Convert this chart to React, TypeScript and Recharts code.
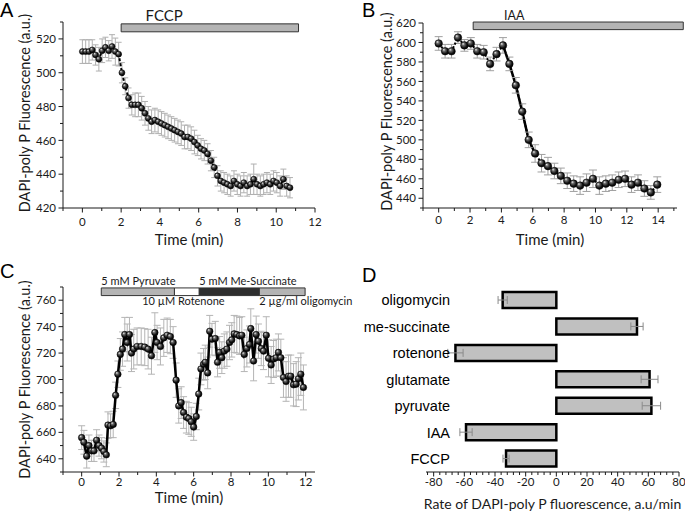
import React from 'react'
import {
  LineChart,
  Line,
  BarChart,
  Bar,
  XAxis,
  YAxis,
  ErrorBar,
  ReferenceArea
} from 'recharts'

// Panel A: FCCP
const aTime = [0, 0.17, 0.34, 0.51, 0.68, 0.85, 1.02, 1.19, 1.36, 1.53, 1.7, 1.87, 2.04, 2.21, 2.38, 2.55, 2.72, 2.89, 3.06, 3.23, 3.4, 3.57, 3.74, 3.91, 4.08, 4.25, 4.42, 4.59, 4.76, 4.93, 5.1, 5.27, 5.44, 5.61, 5.78, 5.95, 6.12, 6.29, 6.46, 6.63, 6.8, 6.97, 7.14, 7.31, 7.48, 7.65, 7.82, 7.99, 8.16, 8.33, 8.5, 8.67, 8.84, 9.01, 9.18, 9.35, 9.52, 9.69, 9.86, 10.03, 10.2, 10.37, 10.54, 10.71]
const aVal = [512.5, 512.5, 512.5, 513.5, 510.5, 508, 513, 515, 513, 515.5, 512.5, 511, 500, 492, 485, 481, 481, 481, 479, 476, 473, 471, 472, 471, 470, 469, 468, 467, 466, 465, 464, 462, 462, 461, 459, 457, 455, 454, 452, 448, 444, 439, 436, 435, 434, 433, 436, 434, 433, 435, 433, 434, 437, 434, 433, 434, 435, 434, 436, 435, 433, 437, 433, 432]
const aErr = [7, 7, 7, 6, 6, 7, 7, 6, 6, 7, 8, 7, 6, 5, 6, 6, 7, 7, 7, 7, 7, 7, 7, 7, 7, 7, 7, 7, 7, 7, 7, 7, 7, 7, 7, 6, 6, 6, 6, 6, 6, 6, 6, 6, 6, 6, 6, 6, 6, 6, 6, 6, 9, 6, 6, 6, 6, 6, 6, 6, 6, 6, 6, 6]

// Panel B: IAA
const bTime = [0, 0.41, 0.82, 1.23, 1.64, 2.05, 2.46, 2.87, 3.28, 3.69, 4.1, 4.51, 4.92, 5.33, 5.74, 6.15, 6.56, 6.97, 7.38, 7.79, 8.2, 8.61, 9.02, 9.43, 9.84, 10.25, 10.66, 11.07, 11.48, 11.89, 12.3, 12.71, 13.12, 13.53, 13.94]
const bVal = [599, 591, 591, 605, 597, 599, 591, 590, 578, 588, 597, 578, 556, 529, 500, 486, 476, 473, 468, 463, 458, 455, 453, 456, 460, 453, 455, 456, 459, 460, 454, 456, 450, 446, 454]
const bErr = [7, 7, 7, 6, 6, 6, 7, 7, 7, 7, 8, 7, 8, 8, 8, 9, 9, 9, 8, 8, 8, 8, 9, 9, 9, 9, 8, 8, 8, 8, 8, 8, 8, 7, 8]

// Panel C: substrates / inhibitors
const cTime = [0, 0.12, 0.27, 0.39, 0.53, 0.66, 0.8, 0.93, 1.07, 1.19, 1.32, 1.41, 1.55, 1.69, 1.82, 1.94, 2.07, 2.19, 2.31, 2.44, 2.56, 2.67, 2.79, 2.97, 3.19, 3.38, 3.56, 3.74, 3.92, 4.04, 4.22, 4.4, 4.58, 4.75, 4.9, 5.06, 5.2, 5.33, 5.46, 5.61, 5.74, 5.87, 6.0, 6.14, 6.27, 6.39, 6.53, 6.62, 6.75, 6.86, 6.98, 7.16, 7.28, 7.39, 7.51, 7.64, 7.78, 7.92, 8.04, 8.17, 8.31, 8.46, 8.58, 8.71, 8.85, 8.99, 9.06, 9.21, 9.35, 9.47, 9.62, 9.74, 9.89, 10.01, 10.15, 10.28, 10.42, 10.54, 10.67, 10.81, 10.95, 11.08, 11.2, 11.35, 11.49, 11.61, 11.74, 11.88]
const cVal = [656, 652.5, 642, 650, 646, 646, 654, 650, 648, 645.5, 643, 665.5, 665, 666, 688, 704, 719, 723, 734, 728, 734, 720, 723, 725, 725, 724.5, 723, 718, 735.5, 728, 725, 731.5, 733.5, 732.5, 728, 699.5, 680, 682.5, 675, 671.5, 670.5, 668, 664, 672, 689, 708, 711.5, 713, 705, 736.5, 730.5, 731, 713, 720.5, 716.5, 721.5, 723, 728, 730, 734.5, 734, 733, 733.5, 719, 723.5, 726.5, 738.5, 714, 734, 729, 723.5, 721.5, 733.5, 716, 711, 715.5, 716.5, 720.5, 716.5, 701.5, 698.5, 702.5, 702.5, 696, 696.5, 700.5, 704, 694]
const cErr = [9, 9, 9, 8, 8, 8, 8, 8, 8, 8, 9, 10, 9, 10, 10, 10, 12, 13, 13, 14, 13, 14, 15, 14, 14, 14, 15, 14, 15, 13, 14, 14, 13, 13, 12, 13, 13, 12, 12, 12, 12, 11, 10, 10, 12, 12, 12, 13, 12, 12, 12, 13, 11, 12, 12, 13, 13, 13, 13, 14, 14, 14, 14, 13, 14, 14, 15, 15, 14, 13, 13, 14, 14, 14, 14, 14, 14, 14, 14, 15, 15, 16, 16, 16, 17, 16, 16, 17]

// Panel D: rates
const dNames = ['oligomycin', 'me-succinate', 'rotenone', 'glutamate', 'pyruvate', 'IAA', 'FCCP']
const dRates = [-35, 52.6, -65.8, 60.8, 62, -58.9, -32.8]
const dErr = [3, 4, 5, 5.5, 6, 4, 2]

// axis ticks (all marks) and the labelled ones
const aXTicks = [-1, 0, 1, 2, 3, 4, 5, 6, 7, 8, 9, 10, 11, 12]
const aXLabels = [0, 2, 4, 6, 8, 10, 12]
const aYTicks = [420, 430, 440, 450, 460, 470, 480, 490, 500, 510, 520, 530]
const aYLabels = [420, 440, 460, 480, 500, 520]
const bXTicks = [-1, 0, 1, 2, 3, 4, 5, 6, 7, 8, 9, 10, 11, 12, 13, 14, 15]
const bXLabels = [0, 2, 4, 6, 8, 10, 12, 14]
const bYTicks = [430, 440, 450, 460, 470, 480, 490, 500, 510, 520, 530, 540, 550, 560, 570, 580, 590, 600, 610, 620]
const bYLabels = [440, 460, 480, 500, 520, 540, 560, 580, 600, 620]
const cXTicks = [-1, 0, 1, 2, 3, 4, 5, 6, 7, 8, 9, 10, 11, 12]
const cXLabels = [0, 2, 4, 6, 8, 10, 12]
const cYTicks = [630, 640, 650, 660, 670, 680, 690, 700, 710, 720, 730, 740, 750, 760, 770]
const cYLabels = [640, 660, 680, 700, 720, 740, 760]
const dXTicks = [-84, -80, -76, -72, -68, -64, -60, -56, -52, -48, -44, -40, -36, -32, -28, -24, -20, -16, -12, -8, -4, 0, 4, 8, 12, 16, 20, 24, 28, 32, 36, 40, 44, 48, 52, 56, 60, 64, 68, 72, 76, 80]
const dXLabels = [-80, -60, -40, -20, 0, 20, 40, 60, 80]

const aRows = aTime.map((t, i) => ({ t, v: aVal[i], e: aErr[i] }))
const bRows = bTime.map((t, i) => ({ t, v: bVal[i], e: bErr[i], drop: i >= 10 && i <= 15 ? bVal[i] : null }))
const cRows = cTime.map((t, i) => ({ t, v: cVal[i], e: cErr[i] }))
const dRows = dNames.map((name, i) => ({ name, v: dRates[i], e: dErr[i] }))

const INK = '#1a1a1a'

const xTick = (labels: number[], offset: number) => (p: any) => {
  const v = p.payload.value
  const major = labels.includes(v)
  return (
    <g>
      <line x1={p.x} x2={p.x} y1={p.y} y2={p.y + (major ? 4.5 : 3)} stroke={INK} />
      {major && (
        <text x={p.x} y={p.y + offset} textAnchor="middle" fontSize={11.5} fill={INK}>
          {v}
        </text>
      )}
    </g>
  )
}

const yTick = (labels: number[]) => (p: any) => {
  const v = p.payload.value
  const major = labels.includes(v)
  return (
    <g>
      <line x1={p.x - (major ? 4.5 : 3)} x2={p.x} y1={p.y} y2={p.y} stroke={INK} />
      {major && (
        <text x={p.x - 7} y={p.y} dy="0.36em" textAnchor="end" fontSize={11.5} fill={INK}>
          {v}
        </text>
      )}
    </g>
  )
}

const xTitle = (text: string, dy: number, size = 15) => (p: any) => {
  const vb = p.viewBox
  return (
    <text x={vb.x + vb.width / 2} y={vb.y + dy} textAnchor="middle" fontSize={size} fill={INK}>
      {text}
    </text>
  )
}

const yTitle = (text: string, x: number, shift: number) => (p: any) => {
  const vb = p.viewBox
  const cy = vb.y + vb.height / 2 + shift
  return (
    <text transform={`translate(${x},${cy}) rotate(-90)`} textAnchor="middle" dy="0.35em" fontSize={14.5} fill={INK}>
      {text}
    </text>
  )
}

const areaText = (text: string, dx: number, dy: number, anchor: string, size = 11) => (p: any) => {
  const vb = p.viewBox
  return (
    <text x={vb.x + dx} y={vb.y + dy} textAnchor={anchor} fontSize={size} fill={INK}>
      {text}
    </text>
  )
}

const ball = (r: number) => (p: any) => {
  if (p.cx == null || p.cy == null) return <g key={p.index} />
  return <circle key={p.index} cx={p.cx} cy={p.cy} r={r} fill="url(#ball)" stroke="#000" strokeWidth={0.5} />
}

const catTick = (p: any) => (
  <text x={p.x + 24} y={p.y} dy="0.36em" textAnchor="end" fontSize={14.5} fontFamily="'Liberation Sans', Arial, sans-serif" fill="#000">
    {p.payload.value}
  </text>
)

const letter = (ch: string, left: number, top: number) => (
  <div style={{ position: 'absolute', left, top, fontSize: 20, lineHeight: '20px', fontFamily: "'Liberation Sans', Arial, sans-serif", color: '#000' }}>
    {ch}
  </div>
)

export default function App() {
  return (
    <div style={{ position: 'absolute', left: 0, top: 0, width: 685, height: 515, background: '#fff', fontFamily: 'Lato, sans-serif', overflow: 'hidden' }}>
      <svg width={0} height={0} style={{ position: 'absolute' }}>
        <defs>
          <radialGradient id="ball" cx="45%" cy="45%" r="60%" fx="32%" fy="28%">
            <stop offset="0%" stopColor="#f2f2f2" />
            <stop offset="30%" stopColor="#6a6a6a" />
            <stop offset="70%" stopColor="#111" />
            <stop offset="100%" stopColor="#000" />
          </radialGradient>
        </defs>
      </svg>

      {/* A */}
      <div style={{ position: 'absolute', left: 0, top: 0 }}>
        <LineChart width={340} height={260} data={aRows} margin={{ top: 22, right: 25, left: 0, bottom: 0 }}>
          <XAxis dataKey="t" type="number" domain={[-1, 12]} ticks={aXTicks} interval={0} height={52}
            stroke={INK} tickSize={0} tickMargin={0} tickLine={false} tick={xTick(aXLabels, 18)}
            label={xTitle('Time (min)', 37)} />
          <YAxis type="number" domain={[420, 530]} ticks={aYTicks} interval={0} width={63}
            stroke={INK} tickSize={0} tickMargin={0} tickLine={false} tick={yTick(aYLabels)}
            label={yTitle('DAPI-poly P Fluorescence (a.u.)', 25, -2)} />
          <ReferenceArea x1={2} x2={11.15} y1={524.2} y2={528.9} fill="#b4b4b4" stroke="#333" strokeWidth={1} fillOpacity={1} ifOverflow="visible"
            label={areaText('FCCP', 43, -3, 'middle', 15)} />
          <Line dataKey="v" stroke="#000" strokeWidth={2} strokeDasharray="3 2" dot={ball(3)} activeDot={false} isAnimationActive={false}>
            <ErrorBar dataKey="e" direction="y" width={3} stroke="#b0b0b0" strokeWidth={1} />
          </Line>
        </LineChart>
      </div>

      {/* B */}
      <div style={{ position: 'absolute', left: 340, top: 0 }}>
        <LineChart width={345} height={260} data={bRows} margin={{ top: 23, right: 8, left: 0, bottom: 0 }}>
          <XAxis dataKey="t" type="number" domain={[-1, 15.2]} ticks={bXTicks} interval={0} height={52}
            stroke={INK} tickSize={0} tickMargin={0} tickLine={false} tick={xTick(bXLabels, 16)}
            label={xTitle('Time (min)', 37)} />
          <YAxis type="number" domain={[430, 620]} ticks={bYTicks} interval={0} width={83}
            stroke={INK} tickSize={0} tickMargin={0} tickLine={false} tick={yTick(bYLabels)}
            label={yTitle('DAPI-poly P Fluorescence (a.u.)', 47, -4)} />
          <ReferenceArea x1={2.2} x2={15.6} y1={613.2} y2={621} fill="#b4b4b4" stroke="#333" strokeWidth={1} fillOpacity={1} ifOverflow="visible"
            label={areaText('IAA', 41, -2.5, 'middle', 12.5)} />
          <Line dataKey="drop" stroke="#000" strokeWidth={2.5} dot={false} activeDot={false} isAnimationActive={false} />
          <Line dataKey="v" stroke="#000" strokeWidth={2} strokeDasharray="2 2" dot={ball(3.8)} activeDot={false} isAnimationActive={false}>
            <ErrorBar dataKey="e" direction="y" width={4} stroke="#a0a0a0" strokeWidth={1} />
          </Line>
        </LineChart>
      </div>

      {/* C */}
      <div style={{ position: 'absolute', left: 0, top: 260 }}>
        <LineChart width={360} height={255} data={cRows} margin={{ top: 27, right: 45, left: 0, bottom: 0 }}>
          <XAxis dataKey="t" type="number" domain={[-1, 12.5]} ticks={cXTicks} interval={0} height={43}
            stroke={INK} tickSize={0} tickMargin={0} tickLine={false} tick={xTick(cXLabels, 14)}
            label={xTitle('Time (min)', 31)} />
          <YAxis type="number" domain={[630, 770]} ticks={cYTicks} interval={0} width={63}
            stroke={INK} tickSize={0} tickMargin={0} tickLine={false} tick={yTick(cYLabels)}
            label={yTitle('DAPI-poly P Fluorescence (a.u.)', 25, 0)} />
          <ReferenceArea x1={1.05} x2={4.97} y1={763.5} y2={769.3} fill="#b4b4b4" stroke="#333" strokeWidth={1} fillOpacity={1} ifOverflow="visible"
            label={areaText('5 mM Pyruvate', 0, -3, 'start')} />
          <ReferenceArea x1={4.97} x2={6.3} y1={763.5} y2={769.3} fill="#ffffff" stroke="#333" strokeWidth={1} fillOpacity={1} ifOverflow="visible"
            label={areaText('10 \u00B5M Rotenone', 9, 17, 'middle')} />
          <ReferenceArea x1={6.3} x2={9.52} y1={763.5} y2={769.3} fill="#2e2e2e" stroke="#333" strokeWidth={1} fillOpacity={1} ifOverflow="visible"
            label={areaText('5 mM Me-Succinate', 0, -3, 'start')} />
          <ReferenceArea x1={9.52} x2={11.97} y1={763.5} y2={769.3} fill="#b4b4b4" stroke="#333" strokeWidth={1} fillOpacity={1} ifOverflow="visible"
            label={areaText('2 \u00B5g/ml oligomycin', 0, 17, 'start')} />
          <Line dataKey="v" stroke="#000" strokeWidth={2.5} dot={ball(3.3)} activeDot={false} isAnimationActive={false}>
            <ErrorBar dataKey="e" direction="y" width={3.5} stroke="#b5b5b5" strokeWidth={1} />
          </Line>
        </LineChart>
      </div>

      {/* D */}
      <div style={{ position: 'absolute', left: 340, top: 260 }}>
        <BarChart width={345} height={255} data={dRows} layout="vertical" barCategoryGap="19%"
          margin={{ top: 27, right: 6, left: 0, bottom: 0 }}>
          <XAxis type="number" domain={[-85, 80]} ticks={dXTicks} interval={0} height={43}
            stroke={INK} tickSize={0} tickMargin={0} tickLine={false} tick={xTick(dXLabels, 14)}
            label={xTitle('Rate of DAPI-poly P fluorescence, a.u/min', 37, 14)} />
          <YAxis type="category" dataKey="name" width={86} axisLine={false} tickLine={false}
            tickSize={0} tickMargin={0} tick={catTick} interval={0} />
          <Bar dataKey="v" fill="#c0c0c0" stroke="#000" strokeWidth={2.5} isAnimationActive={false}>
            <ErrorBar dataKey="e" direction="x" width={4} stroke="#8a8a8a" strokeWidth={1} />
          </Bar>
        </BarChart>
      </div>

      {letter('A', 0, 0)}
      {letter('B', 362, 0)}
      {letter('C', 0, 261)}
      {letter('D', 362, 265)}
    </div>
  )
}
